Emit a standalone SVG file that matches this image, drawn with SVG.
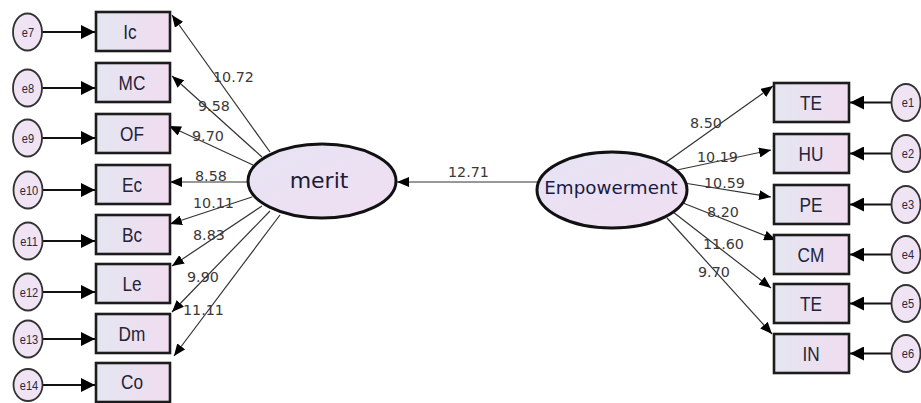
<svg xmlns="http://www.w3.org/2000/svg" width="921" height="403" viewBox="0 0 921 403">
  <defs>
    <linearGradient id="boxFill" x1="0" y1="0" x2="1" y2="0">
      <stop offset="0" stop-color="#e4e6f0"/>
      <stop offset="1" stop-color="#f1dcf0"/>
    </linearGradient>
    <linearGradient id="ovalFill" x1="0" y1="0" x2="1" y2="1">
      <stop offset="0" stop-color="#e6e4f4"/>
      <stop offset="1" stop-color="#f0def2"/>
    </linearGradient>
    <marker id="head" markerUnits="userSpaceOnUse" markerWidth="12" markerHeight="10" refX="12" refY="5" orient="auto">
      <path d="M0,0 L12,5 L0,10 z" fill="#000"/>
    </marker>
    <marker id="headBig" markerUnits="userSpaceOnUse" markerWidth="14" markerHeight="14" refX="14" refY="7" orient="auto">
      <path d="M0,0 L14,7 L0,14 z" fill="#000"/>
    </marker>
  </defs>
  <style>
    .box { fill: url(#boxFill); stroke: #1c1c1c; stroke-width: 2.6; }
    .oval { fill: url(#ovalFill); stroke: #111; stroke-width: 3; }
    .err { fill: #efe3f4; stroke: #333; stroke-width: 1.8; }
    .lbl { font-family: "Liberation Sans", Arial, sans-serif; font-size: 21px; fill: #23233a; text-anchor: middle; }
    .elbl { font-family: "Liberation Sans", Arial, sans-serif; font-size: 13px; fill: #2a2a3c; text-anchor: middle; }
    .num { font-family: "DejaVu Sans", Verdana, sans-serif; font-size: 14.3px; fill: #3c3838; }
    .path { fill: none; stroke: #333; stroke-width: 1.2; marker-end: url(#head); }
    .epath { fill: none; stroke: #111; stroke-width: 2; marker-end: url(#headBig); }
  </style>

  <!-- connectors -->
  <g id="connectors">
    <!-- merit to its indicators -->
    <path class="path" d="M270,152 L172,15"/>
    <path class="path" d="M262,157 L172,76"/>
    <path class="path" d="M253,165 L169,126"/>
    <path class="path" d="M248,182 L170,182"/>
    <path class="path" d="M252,197 L170,224"/>
    <path class="path" d="M262,206 L172,266"/>
    <path class="path" d="M270,211 L172,312"/>
    <path class="path" d="M280,215 L174,356"/>
    <!-- Empowerment to merit -->
    <path class="path" d="M537,182 L397,182"/>
    <!-- Empowerment to its indicators -->
    <path class="path" d="M665,163 L773,86"/>
    <path class="path" d="M677,170 L771,150"/>
    <path class="path" d="M684,183 L771,197"/>
    <path class="path" d="M683,203 L776,240"/>
    <path class="path" d="M673,212 L771,288"/>
    <path class="path" d="M667,218 L772,334"/>
    <!-- error terms, left -->
    <path class="epath" d="M42,32 L95,32"/>
    <path class="epath" d="M42,88 L95,88"/>
    <path class="epath" d="M42,138 L95,138"/>
    <path class="epath" d="M42,190 L95,190"/>
    <path class="epath" d="M42,241 L95,241"/>
    <path class="epath" d="M42,292 L95,292"/>
    <path class="epath" d="M42,339 L95,339"/>
    <path class="epath" d="M42,385 L95,385"/>
    <!-- error terms, right -->
    <path class="epath" d="M892,102.5 L850,102.5"/>
    <path class="epath" d="M892,153.5 L850,153.5"/>
    <path class="epath" d="M892,204.5 L850,204.5"/>
    <path class="epath" d="M892,254.5 L850,254.5"/>
    <path class="epath" d="M892,303.5 L850,303.5"/>
    <path class="epath" d="M892,353.5 L850,353.5"/>
  </g>

  <!-- path coefficients -->
  <g id="coefficients">
    <text class="num" x="213" y="82">10.72</text>
    <text class="num" x="198" y="111">9.58</text>
    <text class="num" x="192" y="141">9.70</text>
    <text class="num" x="195" y="181">8.58</text>
    <text class="num" x="193" y="208">10.11</text>
    <text class="num" x="193" y="240">8.83</text>
    <text class="num" x="187" y="282">9.90</text>
    <text class="num" x="183" y="315">11.11</text>
    <text class="num" x="448" y="177">12.71</text>
    <text class="num" x="690" y="128">8.50</text>
    <text class="num" x="697" y="162">10.19</text>
    <text class="num" x="704" y="188">10.59</text>
    <text class="num" x="707" y="217">8.20</text>
    <text class="num" x="703" y="249">11.60</text>
    <text class="num" x="698" y="277">9.70</text>
  </g>

  <!-- latent variables -->
  <g id="merit">
    <ellipse class="oval" cx="322" cy="181" rx="74" ry="37"/>
    <text x="319" y="188" font-family="DejaVu Sans, Verdana, sans-serif" font-size="22" fill="#1c1c34" text-anchor="middle">merit</text>
  </g>
  <g id="empowerment">
    <ellipse class="oval" cx="612" cy="190" rx="75" ry="38"/>
    <text x="611" y="194" font-family="DejaVu Sans, Verdana, sans-serif" font-size="18.3" fill="#1a1a44" text-anchor="middle">Empowerment</text>
  </g>

  <!-- merit indicators (labels set in a narrowed face) -->
  <g id="Ic"><rect class="box" x="96" y="12" width="74" height="39"/><text class="lbl" transform="translate(130,39) scale(0.82,1)">Ic</text></g>
  <g id="MC"><rect class="box" x="96" y="63" width="74" height="39"/><text class="lbl" transform="translate(132,90) scale(0.82,1)">MC</text></g>
  <g id="OF"><rect class="box" x="96" y="114" width="74" height="39"/><text class="lbl" transform="translate(132,141) scale(0.82,1)">OF</text></g>
  <g id="Ec"><rect class="box" x="96" y="165" width="74" height="39"/><text class="lbl" transform="translate(132,192) scale(0.82,1)">Ec</text></g>
  <g id="Bc"><rect class="box" x="96" y="215" width="74" height="39"/><text class="lbl" transform="translate(132,242) scale(0.82,1)">Bc</text></g>
  <g id="Le"><rect class="box" x="96" y="264" width="74" height="39"/><text class="lbl" transform="translate(132,291) scale(0.82,1)">Le</text></g>
  <g id="Dm"><rect class="box" x="96" y="314" width="74" height="39"/><text class="lbl" transform="translate(132,341) scale(0.82,1)">Dm</text></g>
  <g id="Co"><rect class="box" x="96" y="363" width="74" height="39"/><text class="lbl" transform="translate(132,389) scale(0.82,1)">Co</text></g>

  <!-- Empowerment indicators -->
  <g id="TE1"><rect class="box" x="774" y="83" width="75" height="39"/><text class="lbl" transform="translate(811,110) scale(0.82,1)">TE</text></g>
  <g id="HU"><rect class="box" x="774" y="134" width="75" height="39"/><text class="lbl" transform="translate(811,161) scale(0.82,1)">HU</text></g>
  <g id="PE"><rect class="box" x="774" y="185" width="75" height="39"/><text class="lbl" transform="translate(811,212) scale(0.82,1)">PE</text></g>
  <g id="CM"><rect class="box" x="774" y="235" width="75" height="39"/><text class="lbl" transform="translate(811,262) scale(0.82,1)">CM</text></g>
  <g id="TE2"><rect class="box" x="774" y="284" width="75" height="39"/><text class="lbl" transform="translate(811,311) scale(0.82,1)">TE</text></g>
  <g id="IN"><rect class="box" x="774" y="334" width="75" height="39"/><text class="lbl" transform="translate(811,361) scale(0.82,1)">IN</text></g>

  <!-- error terms, left -->
  <g id="e7"><ellipse class="err" cx="27.5" cy="32" rx="14.5" ry="18.5"/><text class="elbl" transform="translate(28,36.5) scale(0.85,1)">e7</text></g>
  <g id="e8"><ellipse class="err" cx="27.5" cy="88" rx="14.5" ry="18.5"/><text class="elbl" transform="translate(28,92.5) scale(0.85,1)">e8</text></g>
  <g id="e9"><ellipse class="err" cx="27.5" cy="138" rx="14.5" ry="18.5"/><text class="elbl" transform="translate(28,142.5) scale(0.85,1)">e9</text></g>
  <g id="e10"><ellipse class="err" cx="28" cy="190" rx="14.5" ry="18.5"/><text class="elbl" transform="translate(29,194.5) scale(0.85,1)">e10</text></g>
  <g id="e11"><ellipse class="err" cx="28" cy="241" rx="14.5" ry="18.5"/><text class="elbl" transform="translate(29,245.5) scale(0.85,1)">e11</text></g>
  <g id="e12"><ellipse class="err" cx="28" cy="292" rx="14.5" ry="18.5"/><text class="elbl" transform="translate(29,296.5) scale(0.85,1)">e12</text></g>
  <g id="e13"><ellipse class="err" cx="28" cy="339" rx="14.5" ry="18.5"/><text class="elbl" transform="translate(29,343.5) scale(0.85,1)">e13</text></g>
  <g id="e14"><ellipse class="err" cx="28" cy="385" rx="14.5" ry="16"/><text class="elbl" transform="translate(29,389.5) scale(0.85,1)">e14</text></g>

  <!-- error terms, right -->
  <g id="e1"><ellipse class="err" cx="906" cy="102.5" rx="14.5" ry="18.5"/><text class="elbl" transform="translate(908,107) scale(0.85,1)">e1</text></g>
  <g id="e2"><ellipse class="err" cx="906" cy="153.5" rx="14.5" ry="18.5"/><text class="elbl" transform="translate(908,158) scale(0.85,1)">e2</text></g>
  <g id="e3"><ellipse class="err" cx="906" cy="204.5" rx="14.5" ry="18.5"/><text class="elbl" transform="translate(908,209) scale(0.85,1)">e3</text></g>
  <g id="e4"><ellipse class="err" cx="906" cy="254.5" rx="14.5" ry="18.5"/><text class="elbl" transform="translate(908,259) scale(0.85,1)">e4</text></g>
  <g id="e5"><ellipse class="err" cx="906" cy="303.5" rx="14.5" ry="18.5"/><text class="elbl" transform="translate(908,308) scale(0.85,1)">e5</text></g>
  <g id="e6"><ellipse class="err" cx="906" cy="353.5" rx="14.5" ry="18.5"/><text class="elbl" transform="translate(908,358) scale(0.85,1)">e6</text></g>
</svg>
